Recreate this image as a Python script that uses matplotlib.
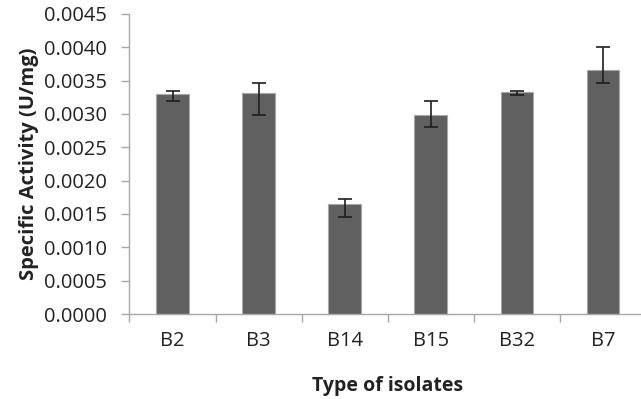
import matplotlib.pyplot as plt
import numpy as np

isolates = ["B2", "B3", "B14", "B15", "B32", "B7"]
activity = [0.00330, 0.00331, 0.00165, 0.00298, 0.00333, 0.00366]
err_low = [0.00011, 0.00032, 0.00019, 0.00018, 0.00004, 0.00019]
err_high = [0.00005, 0.00016, 0.00007, 0.00021, 0.00002, 0.00034]

plt.rcParams['font.family'] = ['Open Sans', 'DejaVu Sans']

fig = plt.figure(figsize=(6.41, 3.99), dpi=100)
ax = fig.add_axes([0.202, 0.213, 0.806, 0.752])

x = np.arange(len(isolates))
ax.bar(x, activity, width=0.38, color='#606060', edgecolor='#a8a8a8', linewidth=0.8, zorder=2)
ax.errorbar(x, activity, yerr=[err_low, err_high], fmt='none', ecolor='#1e1e1e',
            elinewidth=1.2, capsize=4.7, capthick=1.2, zorder=3)

ax.set_xlim(-0.5, len(isolates) - 0.5)
ax.set_ylim(0, 0.0045)
ax.set_yticks(np.arange(0, 0.00451, 0.0005))
ax.set_yticklabels(["%.4f" % v for v in np.arange(0, 0.00451, 0.0005)])

ax.set_xticks(np.arange(-0.5, len(isolates), 1.0))
ax.set_xticklabels([])
ax.set_xticks(x, minor=True)
ax.set_xticklabels(isolates, minor=True)
ax.tick_params(axis='x', which='minor', length=0, pad=12, labelsize=14.5, labelcolor='#222222')
ax.tick_params(axis='x', which='major', length=6, color='#a8a8a8', width=1)
ax.tick_params(axis='y', length=6, color='#a8a8a8', width=1, pad=10, labelsize=14.5, labelcolor='#222222')

for side in ['top', 'right']:
    ax.spines[side].set_visible(False)
ax.spines['left'].set_color('#a8a8a8')
ax.spines['bottom'].set_color('#a8a8a8')
ax.spines['left'].set_linewidth(1)
ax.spines['bottom'].set_linewidth(1)

ax.set_ylabel("Specific Activity (U/mg)", fontsize=14.5, fontweight='bold', color='#222222', labelpad=4)
ax.set_xlabel("Type of isolates", fontsize=14, fontweight='bold', color='#222222', labelpad=18)

fig.savefig("out.png", dpi=100)
